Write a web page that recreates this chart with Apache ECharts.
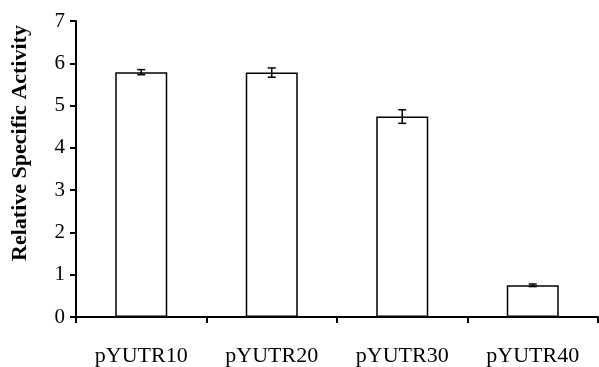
<!DOCTYPE html>
<html>
<head>
<meta charset="utf-8">
<script src="https://cdn.jsdelivr.net/npm/echarts@6/dist/echarts.min.js"></script>
<style>
html,body{margin:0;padding:0;background:#fff;}
#c{width:599px;height:367px;}
</style>
</head>
<body>
<div id="c"></div>
<script>
var categories = ['pYUTR10', 'pYUTR20', 'pYUTR30', 'pYUTR40'];
var values = [5.79, 5.78, 4.74, 0.75];
var errors = [0.06, 0.11, 0.16, 0.03];
var yTicks = [0, 1, 2, 3, 4, 5, 6, 7];
var yTitle = 'Relative Specific Activity';

var chart = echarts.init(document.getElementById('c'), null, {renderer: 'canvas'});
var serif = '"Liberation Serif", "Times New Roman", serif';
var errData = values.map(function (v, i) { return [i, v - errors[i], v + errors[i]]; });

chart.setOption({
  animation: false,
  backgroundColor: '#fff',
  grid: {left: 76, right: 1, top: 21, bottom: 48, containLabel: false},
  graphic: [{
    type: 'text',
    x: 20, y: 143,
    rotation: Math.PI / 2,
    style: {
      text: yTitle,
      font: 'bold 22px ' + serif,
      fill: '#000',
      align: 'center',
      verticalAlign: 'middle'
    }
  }],
  xAxis: {
    type: 'category',
    data: categories,
    boundaryGap: true,
    axisLine: {lineStyle: {color: '#000', width: 2}},
    axisTick: {show: true, length: 6, lineStyle: {color: '#000', width: 2}},
    axisLabel: {color: '#000', fontFamily: serif, fontSize: 22, margin: 28}
  },
  yAxis: {
    type: 'value',
    min: yTicks[0],
    max: yTicks[yTicks.length - 1],
    interval: 1,
    splitLine: {show: false},
    axisLine: {show: true, lineStyle: {color: '#000', width: 2}},
    axisTick: {show: true, length: 6, lineStyle: {color: '#000', width: 2}},
    axisLabel: {color: '#000', fontFamily: serif, fontSize: 21, margin: 11}
  },
  series: [{
    type: 'bar',
    data: values,
    barWidth: 52,
    itemStyle: {color: '#fff', borderColor: '#000', borderWidth: 1.5}
  }, {
    type: 'custom',
    data: errData,
    z: 10,
    renderItem: function (params, api) {
      var x = api.value(0);
      var lo = api.coord([x, api.value(1)]);
      var hi = api.coord([x, api.value(2)]);
      var hw = 4;
      var st = {stroke: '#000', lineWidth: 1.5};
      return {
        type: 'group',
        children: [
          {type: 'line', shape: {x1: lo[0], y1: lo[1], x2: hi[0], y2: hi[1]}, style: st},
          {type: 'line', shape: {x1: lo[0] - hw, y1: lo[1], x2: lo[0] + hw, y2: lo[1]}, style: st},
          {type: 'line', shape: {x1: hi[0] - hw, y1: hi[1], x2: hi[0] + hw, y2: hi[1]}, style: st}
        ]
      };
    }
  }]
});
</script>
</body>
</html>
